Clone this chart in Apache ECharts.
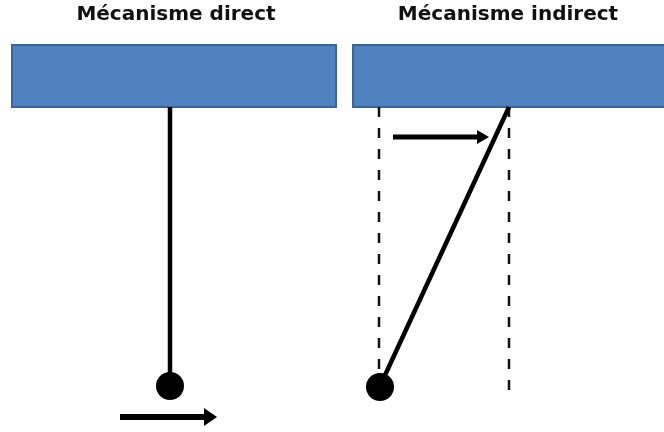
<!DOCTYPE html>
<html>
<head>
<meta charset="utf-8">
<script src="https://cdn.jsdelivr.net/npm/echarts@6/dist/echarts.min.js"></script>
<style>html,body{margin:0;padding:0;background:#fff}#c{width:664px;height:432px}</style>
</head>
<body>
<div id="c"></div>
<script>
// Diagram data (in the diagram's own coordinate space, plotted through hidden axes)
const titles = ['Mécanisme direct', 'Mécanisme indirect'];
const titlePos = [[176, 15], [508, 15]];
const blocks = [[12, 45, 336, 107], [353, 45, 672, 107]];
const strings = [[[170, 107], [170, 386]], [[509, 107], [380, 386]]];
const bobs = [[170, 386], [380, 387]];
const guides = [[[379, 107], [379, 396]], [[509, 107], [509, 396]]];
const forces = [[120, 417, 217, 417], [393, 137, 489, 137]];

const chart = echarts.init(document.getElementById('c'), null, {renderer: 'canvas'});

const series = [];
// blocks
series.push({
  type: 'custom', coordinateSystem: 'cartesian2d', silent: true,
  data: blocks,
  renderItem: function (params, api) {
    const p0 = api.coord([api.value(0), api.value(1)]);
    const p1 = api.coord([api.value(2), api.value(3)]);
    return {
      type: 'rect',
      shape: {x: p0[0], y: p0[1], width: p1[0] - p0[0], height: p1[1] - p0[1]},
      style: {fill: '#4f81bd', stroke: '#3a649a', lineWidth: 2}
    };
  },
  z: 1
});
// dashed guides
guides.forEach(g => series.push({
  type: 'line', data: g, symbol: 'none', silent: true,
  lineStyle: {color: '#111', width: 2.5, type: [10, 11]}, z: 2
}));
// strings
strings.forEach(s => series.push({
  type: 'line', data: s, symbol: 'none', silent: true,
  lineStyle: {color: '#000', width: 4.5}, z: 3
}));
// bobs
series.push({
  type: 'scatter', data: bobs, symbol: 'circle', symbolSize: 28, silent: true,
  itemStyle: {color: '#000', opacity: 1}, z: 4
});
// force arrows
series.push({
  type: 'custom', coordinateSystem: 'cartesian2d', silent: true,
  data: forces,
  renderItem: function (params, api) {
    const a = api.coord([api.value(0), api.value(1)]);
    const b = api.coord([api.value(2), api.value(3)]);
    const big = params.dataIndex === 0;
    const hl = big ? 13 : 12, hw = big ? 9 : 7, w = big ? 6 : 5;
    return {
      type: 'group',
      children: [
        {type: 'line', shape: {x1: a[0], y1: a[1], x2: b[0] - hl + 1, y2: b[1]}, style: {stroke: '#000', lineWidth: w}},
        {type: 'polygon', shape: {points: [[b[0], b[1]], [b[0] - hl, b[1] - hw], [b[0] - hl, b[1] + hw]]}, style: {fill: '#000'}}
      ]
    };
  },
  z: 5
});
// titles
series.push({
  type: 'scatter', silent: true, symbolSize: 0,
  data: titles.map((t, i) => ({name: t, value: titlePos[i]})),
  itemStyle: {opacity: 1},
  label: {show: true, position: 'inside', formatter: '{b}', color: '#111',
    fontFamily: 'DejaVu Sans', fontWeight: 'bold', fontSize: 20},
  z: 6
});

chart.setOption({
  animation: false,
  grid: {left: 0, right: 0, top: 0, bottom: 0},
  xAxis: {type: 'value', min: 0, max: 664, show: false},
  yAxis: {type: 'value', min: 0, max: 432, inverse: true, show: false},
  series: series
});
</script>
</body>
</html>
